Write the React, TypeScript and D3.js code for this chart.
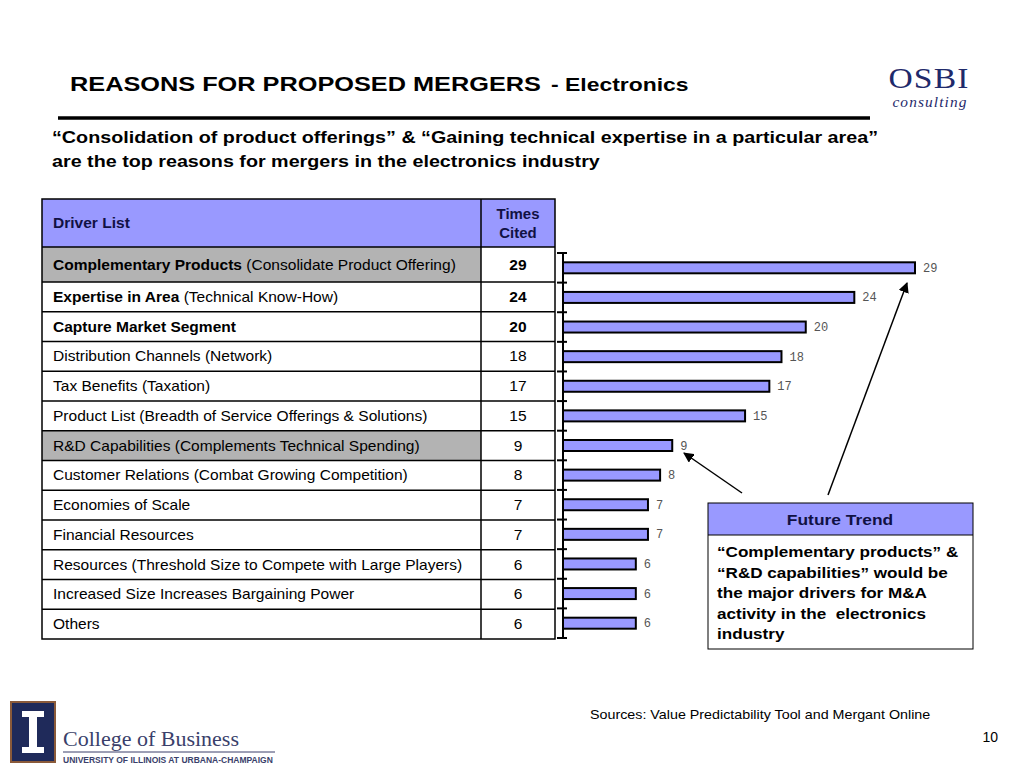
import React from "react";
import * as d3 from "d3";

const driverBold = [
  "Complementary Products",
  "Expertise in Area",
  "Capture Market Segment",
  "", "", "", "", "", "", "", "", "", "",
];
const driverText = [
  " (Consolidate Product Offering)",
  " (Technical Know-How)",
  "",
  "Distribution Channels (Network)",
  "Tax Benefits (Taxation)",
  "Product List (Breadth of Service Offerings & Solutions)",
  "R&D Capabilities (Complements Technical Spending)",
  "Customer Relations (Combat Growing Competition)",
  "Economies of Scale",
  "Financial Resources",
  "Resources (Threshold Size to Compete with Large Players)",
  "Increased Size Increases Bargaining Power",
  "Others",
];
const timesCited = [29, 24, 20, 18, 17, 15, 9, 8, 7, 7, 6, 6, 6];
const highlighted = [true, false, false, false, false, false, true, false, false, false, false, false, false];
const boldValue = [true, true, true, false, false, false, false, false, false, false, false, false, false];

const trendLines = [
  "\u201CComplementary products\u201D &",
  "\u201CR&D capabilities\u201D would be",
  "the major drivers for M&A",
  "activity in the\u00A0 electronics",
  "industry",
];

const LAV = "#9999ff";
const GRAY = "#b3b3b3";
const SANS = "'Liberation Sans', Arial, Helvetica, sans-serif";
const SERIF = "'Liberation Serif', 'DejaVu Serif', serif";
const MONO = "'Liberation Mono', 'Courier New', monospace";

// text stretched horizontally (the reference fonts are wide)
function T(props: { x: number; y: number; sx?: number; anchor?: string; children: React.ReactNode; [k: string]: any }) {
  const { x, y, sx = 1, anchor, children, ...rest } = props;
  return (
    <g transform={`translate(${x},${y}) scale(${sx},1)`}>
      <text x={0} y={0} textAnchor={anchor || "start"} {...rest}>{children}</text>
    </g>
  );
}

export default function App() {
  const n = timesCited.length;
  const idx = d3.range(n);

  // table geometry
  const tL = 42, tR = 555, tDiv = 481;
  const headTop = 199, headBot = 247, firstBot = 282, tBot = 639;
  const rowTop = (i: number) => (i === 0 ? headBot : firstBot + (i - 1) * ((tBot - firstBot) / (n - 1)));
  const rowBot = (i: number) => (i === 0 ? firstBot : firstBot + i * ((tBot - firstBot) / (n - 1)));

  // bar chart scales
  const y = d3.scaleBand<number>().domain(idx).range([253, 638]).padding(0);
  const x = d3.scaleLinear().domain([0, 29]).range([563, 915]);
  const barH = 11;
  const tsx = 1.11;

  return (
    <svg width={1024} height={768} style={{ position: "absolute", left: 0, top: 0, background: "#fff" }}
      fontFamily={SANS}>
      <defs>
        <marker id="ah" viewBox="0 0 10 10" refX="9" refY="5" markerWidth="7" markerHeight="7" orient="auto">
          <path d="M0,0 L10,5 L0,10 z" fill="#000" />
        </marker>
      </defs>
      <rect width={1024} height={768} fill="#fff" />

      {/* Title */}
      <T x={70} y={91} sx={1.205} fontWeight="bold" fontSize={21} fill="#000">REASONS FOR PROPOSED MERGERS</T>
      <T x={551} y={91} sx={1.24} fontWeight="bold" fontSize={18.5} fill="#000">- Electronics</T>
      <line x1={58} x2={870} y1={118} y2={118} stroke="#000" strokeWidth={3.5} />

      {/* OSBI logo */}
      <T x={929} y={88} sx={1.12} anchor="middle" fontFamily={SERIF} fontSize={30} fill="#1f2a6b" letterSpacing={1}>OSBI</T>
      <T x={930} y={107} sx={1.1} anchor="middle" fontFamily={SERIF} fontStyle="italic" fontSize={14} fill="#1f2a6b" letterSpacing={1}>consulting</T>

      {/* Subtitle */}
      <T x={52} y={143} sx={1.16} fontWeight="bold" fontSize={17} fill="#000">
        {"\u201CConsolidation of product offerings\u201D & \u201CGaining technical expertise in a particular area\u201D"}
      </T>
      <T x={52} y={167} sx={1.16} fontWeight="bold" fontSize={17} fill="#000">
        are the top reasons for mergers in the electronics industry
      </T>

      {/* Table */}
      <rect x={tL} y={headTop} width={tR - tL} height={headBot - headTop} fill={LAV} />
      {idx.map((i) => (
        <rect key={"bg" + i} x={tL} y={rowTop(i)} width={tDiv - tL} height={rowBot(i) - rowTop(i)}
          fill={highlighted[i] ? GRAY : "#fff"} />
      ))}
      <T x={53} y={228} sx={tsx} fontWeight="bold" fontSize={14} fill="#111144">Driver List</T>
      <T x={518} y={219} sx={1.07} anchor="middle" fontWeight="bold" fontSize={14} fill="#111144">Times</T>
      <T x={518} y={238} sx={1.07} anchor="middle" fontWeight="bold" fontSize={14} fill="#111144">Cited</T>
      {idx.map((i) => {
        const cy = (rowTop(i) + rowBot(i)) / 2 + 5;
        return (
          <g key={"row" + i}>
            <T x={53} y={cy} sx={tsx} fontSize={14} fill="#000">
              {driverBold[i] ? <tspan fontWeight="bold">{driverBold[i]}</tspan> : null}
              {driverText[i] ? <tspan>{driverText[i]}</tspan> : null}
            </T>
            <T x={518} y={cy} sx={tsx} anchor="middle" fontSize={14} fontWeight={boldValue[i] ? "bold" : "normal"} fill="#000">
              {timesCited[i]}
            </T>
          </g>
        );
      })}
      {/* table grid */}
      {[headBot, ...idx.slice(0, n - 1).map((i) => rowBot(i))].map((yy, k) => (
        <line key={"h" + k} x1={tL} x2={tR} y1={yy} y2={yy} stroke="#000" strokeWidth={1.5} />
      ))}
      <line x1={tDiv} x2={tDiv} y1={headTop} y2={tBot} stroke="#000" strokeWidth={1.5} />
      <rect x={tL} y={headTop} width={tR - tL} height={tBot - headTop} fill="none" stroke="#000" strokeWidth={1.5} />

      {/* Bar chart */}
      {idx.map((i) => {
        const cy = (y(i) as number) + y.bandwidth() / 2;
        return (
          <g key={"bar" + i}>
            <rect x={x(0)} y={cy - barH / 2} width={x(timesCited[i]) - x(0)} height={barH}
              fill={LAV} stroke="#000" strokeWidth={2} />
            <text x={x(timesCited[i]) + 8} y={cy + 4} fontFamily={MONO} fontSize={12} fill="#555">
              {timesCited[i]}
            </text>
          </g>
        );
      })}
      <line x1={x(0)} x2={x(0)} y1={y.range()[0]} y2={y.range()[1]} stroke="#000" strokeWidth={2} />
      {[...idx.map((i) => y(i) as number), y.range()[1]].map((yy, k) => (
        <line key={"t" + k} x1={x(0) - 6} x2={x(0) + 4} y1={yy} y2={yy} stroke="#000" strokeWidth={2} />
      ))}

      {/* Arrows */}
      <line x1={742} y1={493} x2={684} y2={453} stroke="#000" strokeWidth={1.5} markerEnd="url(#ah)" />
      <line x1={828} y1={495} x2={907} y2={283} stroke="#000" strokeWidth={1.5} markerEnd="url(#ah)" />

      {/* Future Trend box */}
      <rect x={708} y={503} width={265} height={32} fill={LAV} />
      <rect x={708} y={503} width={265} height={146} fill="none" stroke="#000" strokeWidth={1} />
      <line x1={708} x2={973} y1={535} y2={535} stroke="#000" strokeWidth={1} />
      <T x={840} y={525} sx={1.16} anchor="middle" fontWeight="bold" fontSize={15} fill="#111144">Future Trend</T>
      {trendLines.map((t, k) => (
        <T key={"tl" + k} x={717} y={557 + k * 20.5} sx={1.18} fontWeight="bold" fontSize={14.5} fill="#000">
          {t}
        </T>
      ))}

      {/* Sources */}
      <T x={590} y={719} sx={1.1} fontSize={13} fill="#000">Sources: Value Predictability Tool and Mergant Online</T>
      <text x={998} y={742} textAnchor="end" fontSize={14} fill="#000">10</text>

      {/* College of Business logo */}
      <rect x={10} y={701} width={46} height={62} fill="#8a5a3a" />
      <rect x={12} y={703} width={42} height={58} fill="#1f2a5a" />
      <path d="M22,711 L44,711 L44,717 L37,717 L37,747 L44,747 L44,753 L22,753 L22,747 L29,747 L29,717 L22,717 Z" fill="#fff" />
      <text x={63} y={746} fontFamily={SERIF} fontSize={22} fill="#3a3f6b">College of Business</text>
      <line x1={63} x2={275} y1={752} y2={752} stroke="#3a3f6b" strokeWidth={1} />
      <text x={63} y={763} fontWeight="bold" fontSize={8.5} fill="#3a3f6b">UNIVERSITY OF ILLINOIS AT URBANA-CHAMPAIGN</text>
    </svg>
  );
}
